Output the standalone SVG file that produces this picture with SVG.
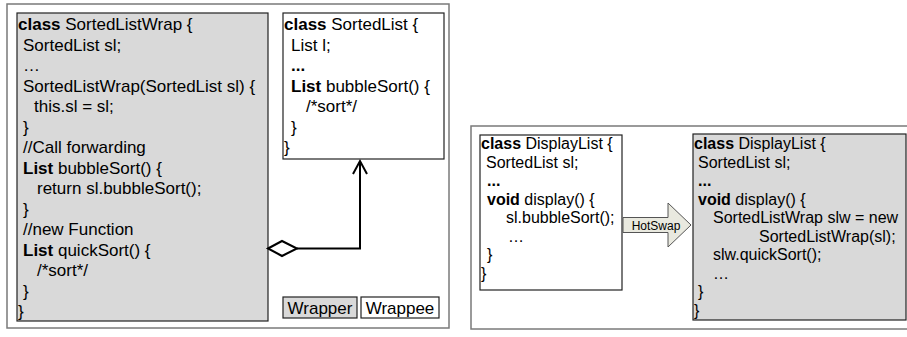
<svg xmlns="http://www.w3.org/2000/svg" width="907" height="337" viewBox="0 0 907 337">
<style>
.frame{fill:#fff;stroke:#7a7a7a;stroke-width:1.5}
.box{stroke:#222;stroke-width:1.2}
.gray{fill:#d9d9d9}
.white{fill:#fff}
.t17{font-family:"Liberation Sans",Arial,sans-serif;font-size:17px;fill:#000}
.t16{font-family:"Liberation Sans",Arial,sans-serif;font-size:16px;fill:#000}
.b{font-weight:bold}
.conn{fill:none;stroke:#000;stroke-width:2}
</style>
<rect width="907" height="337" fill="#fff"/>
<g id="left-panel">
<rect class="frame" x="7" y="4" width="442" height="324"/>
</g>
<g id="right-panel">
<rect class="frame" x="471" y="126" width="450" height="203"/>
</g>
<g id="SortedListWrap">
<rect class="box gray" x="17" y="13" width="251" height="308"/>
<text class="t17" x="18" y="30"><tspan class="b">class</tspan> SortedListWrap {</text>
<text class="t17" x="23" y="50.5">SortedList sl;</text>
<text class="t17" x="23" y="71">…</text>
<text class="t17" x="23" y="91.5">SortedListWrap(SortedList sl) {</text>
<text class="t17" x="34" y="112">this.sl = sl;</text>
<text class="t17" x="23" y="132.5">}</text>
<text class="t17" x="23" y="153">//Call forwarding</text>
<text class="t17" x="23" y="173.5"><tspan class="b">List</tspan> bubbleSort() {</text>
<text class="t17" x="37" y="194">return sl.bubbleSort();</text>
<text class="t17" x="23" y="214.5">}</text>
<text class="t17" x="23" y="235">//new Function</text>
<text class="t17" x="23" y="255.5"><tspan class="b">List</tspan> quickSort() {</text>
<text class="t17" x="37" y="276">/*sort*/</text>
<text class="t17" x="23" y="296.5">}</text>
<text class="t17" x="18" y="317">}</text>
</g>
<g id="SortedList">
<rect class="box white" x="283" y="13" width="161" height="146"/>
<text class="t17" x="284" y="30"><tspan class="b">class</tspan> SortedList {</text>
<text class="t17" x="291" y="50.5">List l;</text>
<text class="t17 b" x="291" y="71">...</text>
<text class="t17" x="291" y="91.5"><tspan class="b">List</tspan> bubbleSort() {</text>
<text class="t17" x="306" y="112">/*sort*/</text>
<text class="t17" x="291" y="132.5">}</text>
<text class="t17" x="284" y="153">}</text>
</g>
<g id="connectors">
<polyline class="conn" points="297,248.5 360,248.5 360,161"/>
<polyline class="conn" points="353,174 360,161 367,174"/>
<polygon points="268,248.5 282,241 297,248.5 282,256" fill="#fff" stroke="#000" stroke-width="2"/>
</g>
<g id="legend-wrapper">
<rect class="box gray" x="283" y="297" width="74" height="21"/>
<text class="t17" x="320" y="314" text-anchor="middle">Wrapper</text>
</g>
<g id="legend-wrappee">
<rect class="box white" x="361" y="297" width="78" height="21"/>
<text class="t17" x="400" y="314" text-anchor="middle">Wrappee</text>
</g>
<g id="DisplayList-before">
<rect class="box white" x="480" y="135" width="142" height="155"/>
<text class="t16" x="481" y="149"><tspan class="b">class</tspan> DisplayList {</text>
<text class="t16" x="486" y="167.5">SortedList sl;</text>
<text class="t16 b" x="487" y="186">...</text>
<text class="t16" x="487" y="204.5"><tspan class="b">void</tspan> display() {</text>
<text class="t16" x="506" y="223">sl.bubbleSort();</text>
<text class="t16" x="508" y="241.5">…</text>
<text class="t16" x="487" y="260">}</text>
<text class="t16" x="481" y="278.5">}</text>
</g>
<g id="HotSwap">
<polygon points="623,217.5 668,217.5 668,203 691,225 668,247 668,232.5 623,232.5" fill="#e9e9df" stroke="#555" stroke-width="1"/>
<text x="656" y="229.5" text-anchor="middle" font-family="'Liberation Sans',Arial,sans-serif" font-size="12" fill="#000">HotSwap</text>
</g>
<g id="DisplayList-after">
<rect class="box gray" x="693" y="134" width="213" height="186"/>
<text class="t16" x="694" y="149"><tspan class="b">class</tspan> DisplayList {</text>
<text class="t16" x="698" y="167.5">SortedList sl;</text>
<text class="t16 b" x="698" y="186">...</text>
<text class="t16" x="698" y="204.5"><tspan class="b">void</tspan> display() {</text>
<text class="t16" x="713" y="223">SortedListWrap slw = new</text>
<text class="t16" x="759" y="241.5">SortedListWrap(sl);</text>
<text class="t16" x="713" y="260">slw.quickSort();</text>
<text class="t16" x="713" y="278.5">…</text>
<text class="t16" x="698" y="297">}</text>
<text class="t16" x="694" y="315.5">}</text>
</g>
</svg>
